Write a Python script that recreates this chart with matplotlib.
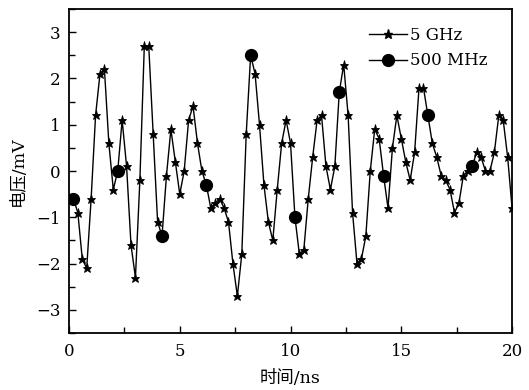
import matplotlib
matplotlib.use("Agg")
import matplotlib.pyplot as plt
from matplotlib.lines import Line2D
from matplotlib.ticker import MultipleLocator
import numpy as np

# 5 GHz samples (every 0.2 ns from 0.2 to 20 ns)
t_5ghz = [round(0.2 * k, 1) for k in range(1, 101)]
v_5ghz = [
    -0.6, -0.9, -1.9, -2.1, -0.6,
    1.2, 2.1, 2.2, 0.6, -0.4,
    0.0, 1.1, 0.1, -1.6, -2.3,
    -0.2, 2.7, 2.7, 0.8, -1.1,
    -1.4, -0.1, 0.9, 0.2, -0.5,
    0.0, 1.1, 1.4, 0.6, 0.0,
    -0.3, -0.8, -0.7, -0.6, -0.8,
    -1.1, -2.0, -2.7, -1.8, 0.8,
    2.5, 2.1, 1.0, -0.3, -1.1,
    -1.5, -0.4, 0.6, 1.1, 0.6,
    -1.0, -1.8, -1.7, -0.6, 0.3,
    1.1, 1.2, 0.1, -0.4, 0.1,
    1.7, 2.3, 1.2, -0.9, -2.0,
    -1.9, -1.4, 0.0, 0.9, 0.7,
    -0.1, -0.8, 0.5, 1.2, 0.7,
    0.2, -0.2, 0.4, 1.8, 1.8,
    1.2, 0.6, 0.3, -0.1, -0.2,
    -0.4, -0.9, -0.7, -0.1, 0.0,
    0.1, 0.4, 0.3, 0.0, 0.0,
    0.4, 1.2, 1.1, 0.3, -0.8,
]

# 500 MHz samples (every 2 ns)
t_500mhz = [0.2, 2.2, 4.2, 6.2, 8.2, 10.2, 12.2, 14.2, 16.2, 18.2]
v_500mhz = [-0.6, 0.0, -1.4, -0.3, 2.5, -1.0, 1.7, -0.1, 1.2, 0.1]

x_ticks = [0, 5, 10, 15, 20]
y_ticks = [-3, -2, -1, 0, 1, 2, 3]

serif = ['DejaVu Serif', 'Noto Sans CJK SC']
plt.rcParams['font.family'] = serif
plt.rcParams['axes.unicode_minus'] = True

fig = plt.figure(figsize=(5.29, 3.90), dpi=100)
ax = fig.add_axes([0.1304, 0.146, 0.968 - 0.1304, 0.977 - 0.146])

ax.plot(t_5ghz, v_5ghz, color='black', lw=1.0, marker='*', markersize=6.5,
        markeredgewidth=0.6, zorder=2)
ax.plot(t_500mhz, v_500mhz, linestyle='none', marker='o', color='black',
        markersize=8.5, zorder=3)

ax.set_xlim(0, 20)
ax.set_ylim(-3.5, 3.5)
ax.set_xticks(x_ticks)
ax.set_xticklabels([str(v) for v in x_ticks])
ax.set_yticks(y_ticks)
ax.set_yticklabels([('\u2212' + str(-v)) if v < 0 else str(v) for v in y_ticks])
ax.xaxis.set_minor_locator(MultipleLocator(2.5))
ax.yaxis.set_minor_locator(MultipleLocator(0.5))
ax.tick_params(which='both', direction='in', top=False, right=False,
               labelsize=12, width=1.0)
ax.tick_params(axis='x', which='major', pad=7)
ax.tick_params(axis='y', which='major', pad=6)
ax.tick_params(which='major', length=5)
ax.tick_params(which='minor', length=4)
for s in ax.spines.values():
    s.set_linewidth(1.3)

ax.set_xlabel('时间/ns', fontsize=12.5, family=serif, labelpad=7)
ax.set_ylabel('电压/mV', fontsize=12.5, family=serif, labelpad=7)

handles = [
    Line2D([], [], color='black', lw=1.0, marker='*', markersize=6.5),
    Line2D([], [], color='black', lw=1.0, marker='o', markersize=8.5),
]
ax.legend(handles, ['5 GHz', '500 MHz'], loc='upper right', frameon=False,
          fontsize=12, handlelength=2.3, handletextpad=0.2, labelspacing=0.5,
          bbox_to_anchor=(0.972, 0.98), borderaxespad=0.3)

fig.savefig('out.png', dpi=100)
